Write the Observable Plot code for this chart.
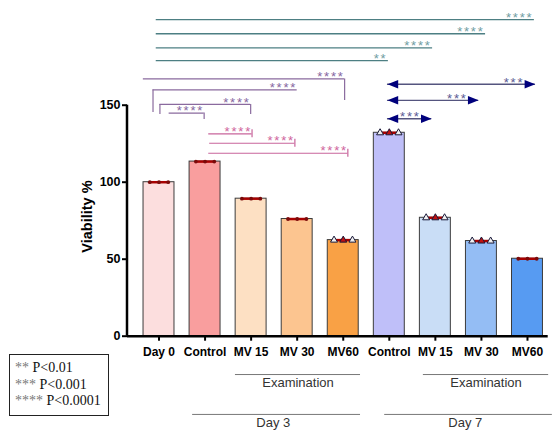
<!DOCTYPE html>
<html>
<head>
<meta charset="utf-8">
<script src="https://cdn.jsdelivr.net/npm/d3@7"></script>
<script src="https://cdn.jsdelivr.net/npm/@observablehq/plot@0.6"></script>
<style>
  html, body { margin: 0; padding: 0; background: #fff; }
  #wrap { position: relative; width: 556px; height: 430px; }
  #legend {
    position: absolute; left: 9px; top: 354px; width: 100px; height: 62px;
    box-sizing: border-box; border: 1.5px solid #222; background: #fff;
    display: flex; flex-direction: column; justify-content: center;
    padding-left: 5px;
    font-family: "Liberation Serif", "Times New Roman", serif; font-size: 14px; line-height: 16.7px; color: #111;
  }
  #legend .s { color: #777; }
</style>
</head>
<body>
<div id="wrap">
  <div id="chart"></div>
  <div id="legend">
    <div><span class="s">**</span> P&lt;0.01</div>
    <div><span class="s">***</span> P&lt;0.001</div>
    <div><span class="s">****</span> P&lt;0.0001</div>
  </div>
</div>
<script>
// ---- data ----
const categories = ["Day 0", "Control", "MV 15", "MV 30", "MV60", "Control", "MV 15", "MV 30", "MV60"];
const viability = [100, 113.4, 89.3, 76.1, 62.4, 132.1, 76.9, 61.8, 50.3];
const barColors = ["#fcdede", "#f99e9e", "#fde0c3", "#fcc590", "#f9a145", "#bfbff9", "#c9ddf6", "#94bdf4", "#579bf2"];
const markerKind = ["circle", "circle", "circle", "circle", "triangle", "triangle", "triangle", "triangle", "circle"];
const yTicks = [0, 50, 100, 150];

// significance comparisons (positions along category axis, y in % units)
const tealLinks = [
  {x1: -0.06, x2: 8.15, y: 205.6, label: "****"},
  {x1: -0.06, x2: 7.09, y: 196.4, label: "****"},
  {x1: -0.06, x2: 5.94, y: 187.3, label: "****"},
  {x1: -0.06, x2: 4.98, y: 179.0, label: "**"}
];
const purpleLinks = [
  {x1: -0.34, x2: 4.03, y: 167.1, label: "****"},
  {x1: -0.13, x2: 3.00, y: 159.9, label: "****"},
  {x1: 0.02, x2: 1.99, y: 150.5, label: "****"},
  {x1: 0.22, x2: 0.98, y: 144.9, label: "****"}
];
const purpleLegs = [
  {x: 4.03, y1: 167.1, y2: 153.1},
  {x: -0.13, y1: 159.9, y2: 145.3},
  {x: 0.02, y1: 150.5, y2: 144.0},
  {x: 1.99, y1: 150.5, y2: 144.0},
  {x: 0.98, y1: 144.9, y2: 140.7}
];
const pinkLinks = [
  {x1: 1.08, x2: 2.02, y: 131.4, label: "****"},
  {x1: 1.10, x2: 2.95, y: 125.3, label: "****"},
  {x1: 1.08, x2: 4.10, y: 118.8, label: "****"}
];
const arrowLinks = [
  {x1: 4.96, x2: 8.17, y: 163.6, label: "***"},
  {x1: 4.96, x2: 6.94, y: 153.2, label: "***"},
  {x1: 4.96, x2: 5.92, y: 141.2, label: "***"}
];
const examLines = [{x1: 1.66, x2: 4.375, label: "Examination"}, {x1: 5.74, x2: 8.46, label: "Examination"}];
const dayLines = [{x1: 0.73, x2: 4.375, label: "Day 3"}, {x1: 4.90, x2: 8.54, label: "Day 7"}];

// ---- derived tables ----
const bars = categories.map((c, i) => ({i, c, v: viability[i], color: barColors[i], kind: markerKind[i]}));
const reps = [-0.2, 0, 0.2];
const points = bars.flatMap(b => reps.map(o => ({x: b.i + o, v: b.v, kind: b.kind})));
const pinkLegs = pinkLinks.map(d => ({x: d.x2, y1: d.y - 2.6, y2: d.y + 2.6}));

const xDomain = [-0.684, 8.63];
const half = 0.336;
const rightHead = {draw(ctx) { ctx.moveTo(0, 0); ctx.lineTo(-10.7, -4.3); ctx.lineTo(-10.7, 4.3); ctx.closePath(); }};
const leftHead = {draw(ctx) { ctx.moveTo(0, 0); ctx.lineTo(10.7, -4.3); ctx.lineTo(10.7, 4.3); ctx.closePath(); }};

const teal = "#4d7f83", tealStar = "#6f9da2";
const purple = "#8a6a9e", purpleStar = "#86679f";
const pink = "#c8649b", pinkStar = "#cf659d";
const navy = "#00007c", arrowLine = "#55557f", navyStar = "#5a5a94";
const groupGray = "#777";
const starSize = 13;

const chart = Plot.plot({
  width: 556,
  height: 430,
  marginLeft: 127,
  marginRight: 0,
  marginTop: 0,
  marginBottom: 94.3,
  x: {type: "linear", domain: xDomain},
  y: {domain: [0, 218]},
  style: {fontFamily: "'Liberation Sans', Arial, sans-serif", background: "white", color: "black", overflow: "visible"},
  marks: [
    Plot.rectY(bars, {x1: d => d.i - half, x2: d => d.i + half, y1: 0, y2: "v", fill: "color", stroke: "#3c3c3c", strokeWidth: 1}),
    Plot.ruleY(bars, {x1: d => d.i - 0.19, x2: d => d.i + 0.19, y: "v", stroke: "#a80000", strokeWidth: 2.5}),
    Plot.dot(points.filter(p => p.kind === "circle"), {x: "x", y: "v", r: 1.9, fill: "#7a0a0a", stroke: "none"}),
    Plot.dot(points.filter(p => p.kind === "triangle"), {x: "x", y: "v", symbol: "triangle", r: 2.6, fill: d => d.x % 1 === 0 ? "#c01010" : "#f0f0f0", stroke: "#1a1a3a", strokeWidth: 1}),

    // axes
    Plot.ruleY([0], {x1: xDomain[0], x2: 8.45, stroke: "black", strokeWidth: 2.5}),
    Plot.ruleX([xDomain[0]], {y1: 0, y2: 150, stroke: "black", strokeWidth: 2.5, dx: -0.5}),
    Plot.axisY(yTicks, {tickSize: 5, tickPadding: 2, strokeWidth: 2, fontWeight: "bold", fontSize: 12.5, label: null}),
    Plot.axisX(d3.range(categories.length), {tickFormat: i => categories[i], tickSize: 5, tickPadding: 6, strokeWidth: 2, fontWeight: "bold", fontSize: 12, label: null}),
    Plot.text(["Viability %"], {x: -1.559, y: 77.7, text: d => d, rotate: -90, fontWeight: "bold", fontSize: 14.5, fill: "black"}),

    // teal comparisons
    Plot.ruleY(tealLinks, {x1: "x1", x2: "x2", y: "y", stroke: teal, strokeWidth: 1.3}),
    Plot.text(tealLinks, {x: "x2", y: "y", text: "label", textAnchor: "end", dx: -1, dy: -2, fill: tealStar, fontSize: starSize}),

    // purple comparisons
    Plot.ruleY(purpleLinks, {x1: "x1", x2: "x2", y: "y", stroke: purple, strokeWidth: 1.2}),
    Plot.ruleX(purpleLegs, {x: "x", y1: "y1", y2: "y2", stroke: purple, strokeWidth: 1.2}),
    Plot.text(purpleLinks, {x: "x2", y: "y", text: "label", textAnchor: "end", dx: 0, dy: -2, fill: purpleStar, fontSize: starSize}),

    // pink comparisons
    Plot.ruleY(pinkLinks, {x1: "x1", x2: "x2", y: "y", stroke: pink, strokeWidth: 1.2}),
    Plot.ruleX(pinkLegs, {x: "x", y1: "y1", y2: "y2", stroke: pink, strokeWidth: 1.2}),
    Plot.text(pinkLinks, {x: "x2", y: "y", text: "label", textAnchor: "end", dx: 0, dy: -2, fill: pinkStar, fontSize: starSize}),

    // navy arrows
    Plot.ruleY(arrowLinks, {x1: "x1", x2: "x2", y: "y", stroke: arrowLine, strokeWidth: 1.3}),
    Plot.dot(arrowLinks, {x: "x1", y: "y", symbol: leftHead, fill: navy, stroke: "none"}),
    Plot.dot(arrowLinks, {x: "x2", y: "y", symbol: rightHead, fill: navy, stroke: "none"}),
    Plot.text(arrowLinks, {x: "x2", y: "y", text: "label", textAnchor: "end", dx: -11, dy: -1.5, fill: navyStar, fontSize: starSize}),

    // group annotations
    Plot.ruleY(examLines, {x1: "x1", x2: "x2", y: -24.9, stroke: groupGray, strokeWidth: 1}),
    Plot.text(examLines, {x: d => (d.x1 + d.x2) / 2, y: -30.3, text: "label", fill: "#333", fontSize: 13}),
    Plot.ruleY(dayLines, {x1: "x1", x2: "x2", y: -50.8, stroke: groupGray, strokeWidth: 1}),
    Plot.text(dayLines, {x: d => (d.x1 + d.x2) / 2 - 0.07, y: -56.2, text: "label", fill: "#333", fontSize: 13})
  ]
});

d3.select(chart).selectAll("text").each(function () {
  if (/^\*+$/.test(this.textContent.trim())) this.setAttribute("letter-spacing", "1.8px");
});

document.getElementById("chart").appendChild(chart);
</script>
</body>
</html>
